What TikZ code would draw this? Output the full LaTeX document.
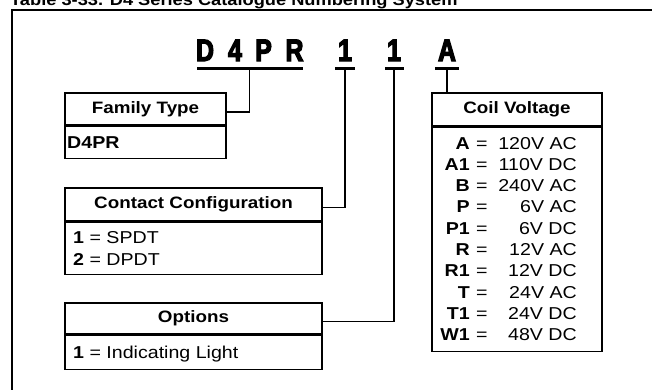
\documentclass[tikz,border=0pt]{standalone}
\usepackage{fontspec}
\setmainfont{Liberation Sans}[FakeStretch=1.14]
\newfontfamily\codefont{Liberation Sans}[UprightFont=* Bold, FakeStretch=0.8, FakeBold=4]
\begin{document}
\begin{tikzpicture}[x=1pt,y=-1pt,
  box/.style={draw, line width=1.2pt, inner sep=0pt},
  conn/.style={line width=1.2pt},
  uline/.style={line width=3pt},
  hdr/.style={box, font=\fontsize{16.5}{18}\selectfont\bfseries},
  txt/.style={font=\fontsize{17.2}{19}\selectfont, inner sep=0pt},
  code/.style={font=\codefont\fontsize{31}{32}\selectfont, inner sep=0pt, anchor=base}
]
\useasboundingbox (0,0) rectangle (652,389);
\clip (0,0) rectangle (652,389);
% title (cut off) and frame
\node[anchor=base west, font=\fontsize{16}{18}\selectfont\bfseries, inner sep=0pt] (title) at (10,5) {Table 3-33. D4 Series Catalogue Numbering System};
\draw[line width=1.3pt] (12,400) -- (12,10) -- (660,10);
% code characters
\node[code] (cD) at (205,61) {D};
\node[code] (c4) at (235,61) {4};
\node[code] (cP) at (263.5,61) {P};
\node[code] (cR) at (294.5,61) {R};
\node[code] (c1a) at (345,61) {1};
\node[code] (c1b) at (394,61) {1};
\node[code] (cA) at (447,61) {A};
\draw[uline] (197,68) -- (303,68);
\draw[uline] (335,68) -- (355,68);
\draw[uline] (385,68) -- (404,68);
\draw[uline] (435,68) -- (459,68);
\coordinate (u1) at (249.5,68);
\coordinate (u2) at (345,68);
\coordinate (u3) at (394,68);
\coordinate (u4) at (447,68);
% Family Type
\node[hdr, minimum width=161pt, minimum height=32pt] (famH) at (145.5,109) {Family Type};
\node[box, minimum width=161pt, minimum height=32pt, anchor=north] (famB) at (famH.south) {};
\node[txt, font=\fontsize{17.2}{19}\selectfont\bfseries, anchor=base west] (famT) at (67,148) {D4PR};
% Contact Configuration
\node[hdr, minimum width=257pt, minimum height=33pt] (conH) at (193.5,204.5) {Contact Configuration};
\node[box, minimum width=257pt, minimum height=52pt, anchor=north] (conB) at (conH.south) {};
\node[txt, anchor=base west] (conT1) at (73,243) {\textbf{1} = SPDT};
\node[txt, anchor=base west] (conT2) at (73,265) {\textbf{2} = DPDT};
% Options
\node[hdr, minimum width=257pt, minimum height=31pt] (optH) at (193.5,318.5) {Options};
\node[box, minimum width=257pt, minimum height=34pt, anchor=north] (optB) at (optH.south) {};
\node[txt, anchor=base west] (optT) at (73,358) {\textbf{1} = Indicating Light};
% Coil Voltage
\node[hdr, minimum width=170pt, minimum height=33pt] (coilH) at (517,109.5) {Coil Voltage};
\node[box, minimum width=170pt, minimum height=224pt, anchor=north] (coilB) at (coilH.south) {};
\foreach \lab/\val [count=\i] in {A/120V AC, A1/110V DC, B/240V AC, P/6V AC, P1/6V DC, R/12V AC, R1/12V DC, T/24V AC, T1/24V DC, W1/48V DC} {
  \pgfmathsetmacro\yy{149+21.33*(\i-1)}
  \node[txt, anchor=base east] (cl\i) at (470,\yy) {\textbf{\lab}};
  \node[txt, anchor=base west] (ce\i) at (476,\yy) {=};
  \node[txt, anchor=base east] (cv\i) at (577,\yy) {\val};
}
% connectors
\draw[conn] ([yshift=-3pt]famH.east) -| (u1);
\draw[conn] ([yshift=-3pt]conH.east) -| (u2);
\draw[conn] ([yshift=-3pt]optH.east) -| (u3);
\draw[conn] (coilH.north -| u4) -- (u4);
\end{tikzpicture}
\end{document}
